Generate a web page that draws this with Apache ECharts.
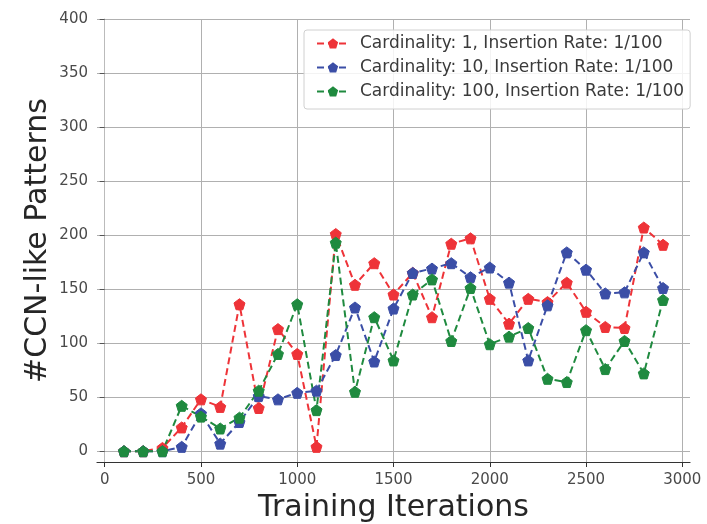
<!DOCTYPE html>
<html>
<head>
<meta charset="utf-8">
<script src="https://cdn.jsdelivr.net/npm/echarts@6/dist/echarts.min.js"></script>
<style>
  html, body { margin: 0; padding: 0; background: #fff; }
  #chart { width: 707px; height: 524px; }
</style>
</head>
<body>
<div id="chart"></div>
<script>
// Training iterations at which pattern counts were sampled
const iterations = [100, 200, 300, 400, 500, 600, 700, 800, 900, 1000,
  1100, 1200, 1300, 1400, 1500, 1600, 1700, 1800, 1900, 2000,
  2100, 2200, 2300, 2400, 2500, 2600, 2700, 2800, 2900];

// #CCN-like patterns per configuration
const card1 = [0, 0, 3, 22, 48, 41, 136, 40, 113, 90,
  4, 201, 154, 174, 145, 165, 124, 192, 197, 141,
  118, 141, 138, 156, 129, 115, 114, 207, 191];
const card10 = [0, 0, 0, 4, 35, 7, 27, 51, 48, 54,
  56, 89, 133, 83, 132, 165, 169, 174, 161, 170,
  156, 84, 135, 184, 168, 146, 147, 184, 151];
const card100 = [0, 0, 0, 42, 32, 21, 31, 56, 90, 136,
  38, 193, 55, 124, 84, 145, 159, 102, 151, 99,
  106, 114, 67, 64, 112, 76, 102, 72, 140];

const seriesNames = [
  'Cardinality: 1, Insertion Rate: 1/100',
  'Cardinality: 10, Insertion Rate: 1/100',
  'Cardinality: 100, Insertion Rate: 1/100'
];
const seriesColors = ['#ee3338', '#3b4ea6', '#1f8a3f'];

// Tick positions shown on each axis
const xTicks = [0, 500, 1000, 1500, 2000, 2500, 3000];
const yTicks = [0, 50, 100, 150, 200, 250, 300, 350, 400];

const pentagon = 'path://M0,-10 L9.51,-3.09 L5.88,8.09 L-5.88,8.09 L-9.51,-3.09 Z';

function makeSeries(name, values, color) {
  return {
    name: name,
    type: 'line',
    data: iterations.map((x, i) => [x, values[i]]),
    symbol: pentagon,
    symbolSize: 11,
    showAllSymbol: true,
    lineStyle: { color: color, width: 2, type: [7, 4] },
    itemStyle: { color: color, borderColor: color, borderWidth: 1 },
    emphasis: { disabled: true },
    animation: false
  };
}

const chart = echarts.init(document.getElementById('chart'));
chart.setOption({
  backgroundColor: '#ffffff',
  animation: false,
  textStyle: { fontFamily: 'DejaVu Sans' },
  grid: { left: 97, right: 17, top: 19, bottom: 62, containLabel: false, outerBoundsMode: 'none' },
  legend: {
    left: 304,
    top: 30,
    orient: 'vertical',
    backgroundColor: 'rgba(255,255,255,0.85)',
    borderColor: '#d0d0d0',
    borderWidth: 1,
    borderRadius: 3,
    padding: [5, 6, 9, 12],
    itemWidth: 32,
    itemHeight: 10,
    itemGap: 7,
    textStyle: { fontSize: 17, lineHeight: 17, color: '#3a3a3a', fontFamily: 'DejaVu Sans', padding: [0, 0, 0, 6] },
    data: seriesNames
  },
  xAxis: {
    type: 'value',
    min: -40,
    max: 3040,
    name: 'Training Iterations',
    nameLocation: 'middle',
    nameGap: 31,
    nameMoveOverlap: false,
    nameTextStyle: { fontSize: 30, color: '#262626', fontFamily: 'DejaVu Sans' },
    axisLine: { show: true, onZero: false, lineStyle: { color: '#333', width: 1.2 } },
    axisTick: { show: true, customValues: xTicks, length: 5, lineStyle: { color: '#333' } },
    axisLabel: { customValues: xTicks, fontSize: 15, color: '#4a4a4a', margin: 11, formatter: v => String(v) },
    splitLine: { show: true, lineStyle: { color: '#b0b0b0', width: 1 } }
  },
  yAxis: {
    type: 'value',
    min: -10,
    max: 400,
    name: '#CCN-like Patterns',
    nameLocation: 'middle',
    nameGap: 44,
    nameMoveOverlap: false,
    nameTextStyle: { fontSize: 30, color: '#262626', fontFamily: 'DejaVu Sans' },
    axisLine: { show: true, lineStyle: { color: '#bbbbbb', width: 1 } },
    axisTick: { show: true, customValues: yTicks, length: 5, lineStyle: { color: '#555' } },
    axisLabel: { customValues: yTicks, fontSize: 15, color: '#4a4a4a', margin: 9, formatter: v => String(v) },
    splitLine: { show: true, lineStyle: { color: '#b0b0b0', width: 1 } }
  },
  series: [
    makeSeries(seriesNames[0], card1, seriesColors[0]),
    makeSeries(seriesNames[1], card10, seriesColors[1]),
    makeSeries(seriesNames[2], card100, seriesColors[2])
  ]
});
</script>
</body>
</html>
